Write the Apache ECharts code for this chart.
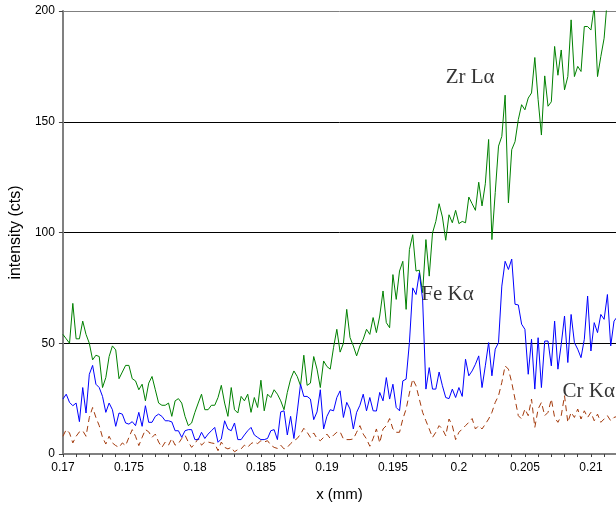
<!DOCTYPE html>
<html><head><meta charset="utf-8">
<script src="https://cdn.jsdelivr.net/npm/echarts@6/dist/echarts.min.js"></script>
<style>html,body{margin:0;padding:0;background:#fff}#c{width:616px;height:507px}</style>
</head><body><div id="c"></div>
<script>
// x positions (mm)
const xValues = [
0.17,0.17025,0.1705,0.17075, 0.171,0.17125,0.1715,0.17175, 0.172,0.17225,0.1725,0.17275,
0.173,0.17325,0.1735,0.17375, 0.174,0.17425,0.1745,0.17475, 0.175,0.17525,0.1755,0.17575,
0.176,0.17625,0.1765,0.17675, 0.177,0.17725,0.1775,0.17775, 0.178,0.17825,0.1785,0.17875,
0.179,0.17925,0.1795,0.17975, 0.18,0.18025,0.1805,0.18075, 0.181,0.18125,0.1815,0.18175,
0.182,0.18225,0.1825,0.18275, 0.183,0.18325,0.1835,0.18375, 0.184,0.18425,0.1845,0.18475,
0.185,0.18525,0.1855,0.18575, 0.186,0.18625,0.1865,0.18675, 0.187,0.18725,0.1875,0.18775,
0.188,0.18825,0.1885,0.18875, 0.189,0.18925,0.1895,0.18975, 0.19,0.19025,0.1905,0.19075,
0.191,0.19125,0.1915,0.19175, 0.192,0.19225,0.1925,0.19275, 0.193,0.19325,0.1935,0.19375,
0.194,0.19425,0.1945,0.19475, 0.195,0.19525,0.1955,0.19575, 0.196,0.19625,0.1965,0.19675,
0.197,0.19725,0.1975,0.19775, 0.198,0.19825,0.1985,0.19875, 0.199,0.19925,0.1995,0.19975,
0.2,0.20025,0.2005,0.20075, 0.201,0.20125,0.2015,0.20175, 0.202,0.20225,0.2025,0.20275,
0.203,0.20325,0.2035,0.20375, 0.204,0.20425,0.2045,0.20475, 0.205,0.20525,0.2055,0.20575,
0.206,0.20625,0.2065,0.20675, 0.207,0.20725,0.2075,0.20775, 0.208,0.20825,0.2085,0.20875,
0.209,0.20925,0.2095,0.20975, 0.21,0.21025,0.2105,0.21075, 0.211,0.21125,0.2115,0.21175,
0.212
];
// Zr L-alpha intensity (cts)
const zrLa = [
54,52,50,68,52,52,60,54,50,42.5,44.6,44,30,34.5,44,48.8,47,34,37,40,
40,34,33,29,31.5,24,32,35,29,23,22,22,23,17,24,25,23,17,12.8,14,
18.8,23,27,20,20,22,22,25.5,31,23,17,30,20,18.5,26,24,27,18.8,25.5,21,
33.3,19.5,27,25.5,29,27,24,20,27.8,33.8,37.5,35,30.8,44.6,31,32,44,38.3,30,42,
39.5,38.3,48,56.3,46,50,65.3,52.6,48.8,44.3,48.8,51.8,56.3,54,61.6,54.8,62.3,73.6,59.3,57,
81,69.8,82.6,87,65.3,92.3,99,82.6,83,72.8,96.8,80.3,99.8,105,113,107,96.5,108,104.4,110,
104,105,104.4,116,113,110,122.7,112,122,142,96.8,118,139,143.4,162,113.4,137.4,141,151,157.7,
155.4,160.7,163,179,160,144,170.7,157,159,184,171,182.4,164.4,170.4,196,170.4,175,172.7,193,193,
191.4,202,170.4,179.4,187.7,206,210,212,210
];
// Fe K-alpha intensity (cts)
const feKa = [
24.8,27,23.3,21.8,23,14.6,30,18.5,36,40,31.5,30,26,18.8,23,20,12.5,18.5,18,14,
13.5,14.6,12.8,18.8,12.5,21.8,14.3,14.3,17,18,17,15,15,14.5,10.5,10.5,7.5,10.5,11,11,
6.5,6.5,9.8,7,9,10.5,12,5.3,6.8,15,11.3,10.5,14,6.5,6.5,8.6,10.5,12,8.6,7.5,
6.5,6.5,7,10.5,11,6.5,19,19.5,8.6,17,7,19,31.5,26,26,24.8,15.5,19,29,11.3,
17,20,19.5,25.5,28.5,16.5,23.3,20.3,11.3,18.8,22,27,19.5,25.5,19.5,19.4,27.8,24,34.5,24.8,
31.5,21,19.5,33,33.8,50.3,75,72,81.8,69.8,29.3,39,29.3,29.3,37,30.8,25.5,25,29.3,25.5,
30,26,42.8,35.3,37.5,40.5,44.3,30,39.8,50.3,35.3,47.3,50.3,75.8,87,83.3,88,67.6,67.3,58.6,
56.3,36,51.8,29.3,52.5,30,51,51,39.8,60,38.3,49.5,62.3,41.3,63,50.3,47.3,43.5,51.8,71.3,
46.5,59.3,54.8,63,60.8,72,48.8,60,62
];
// Cr K-alpha intensity (cts)
const crKa = [
8,11,9.5,5,8,10,10.5,8,16.5,21,16.5,12.8,7.5,4.5,8,5,3.8,3,5,3.8,
7.5,11,8,3.8,7.5,11,10,7.5,9,5.4,3,5.4,4,7,4,4.7,7,8.5,5.4,3,
4.7,7,4,5.4,5.4,5,4.7,1.5,5.4,3,2.3,3,1,2,2.3,4,3,4.7,5.4,4.7,
6,5.4,6,4,3,2.5,4,2.3,3,4.7,6,7,9,11.6,9.8,7.5,9.5,7,6,7.5,
9,7,8.5,9.8,10,6.8,6.5,6.5,6.8,9.8,12.8,9,6.8,3.5,7,11.3,5,11.3,12.8,16,
11.3,9.8,9.8,15.8,20.3,27.5,33.8,30.8,24.8,18.8,15,11.3,7.5,9.8,12.8,11.3,8.2,15.8,12.8,6.5,
9.8,11.3,12.8,14.3,16,11.3,12.8,11.3,13.5,15.8,18.8,23.3,26.3,32.3,39.8,38.3,32.3,24.8,17.3,15.8,
20.3,17.3,24.8,12,20.3,23.3,17.3,18.8,24.8,16.5,14.3,17.3,26.3,14.3,18.8,16.5,20.3,15.8,19.5,16.5,
18.8,15,18,14.3,15.8,17.3,15,16.5,17
];
const xLabelValues = [0.17,0.175,0.18,0.185,0.19,0.195,0.2,0.205,0.21];
const yTickValues = [0,50,100,150,200];
const annotationNames = ['Zr L\u03b1','Fe K\u03b1','Cr K\u03b1'];
const annotationX = [0.1990,0.19715,0.20785];
const annotationY = [170,72,28.4];

const pair = arr => xValues.map((x,i)=>[x,arr[i]]);
const chart = echarts.init(document.getElementById('c'), null, {renderer:'canvas'});
const sans = '"Liberation Sans", Arial, sans-serif';
chart.setOption({
  animation:false,
  backgroundColor:'#fff',
  grid:{left:57,right:0,top:11,bottom:52,containLabel:false},
  xAxis:{
    type:'value', min:0.17, max:0.2119, interval:0.001,
    name:'x (mm)', nameLocation:'middle', nameGap:33,
    nameTextStyle:{fontFamily:sans,fontSize:15,color:'#000'},
    axisLine:{show:true,onZero:false,lineStyle:{color:'#808080',width:2}},
    axisTick:{show:true,length:3,lineStyle:{color:'#404040',width:1}},
    axisLabel:{margin:8,fontFamily:sans,fontSize:12,color:'#000',showMaxLabel:false,
      formatter:v=>{const r=Math.round(v*1000)/1000;return xLabelValues.some(t=>Math.abs(t-v)<1e-7)?String(r):'';}},
    splitLine:{show:false}
  },
  yAxis:{
    type:'value', min:yTickValues[0], max:yTickValues[yTickValues.length-1], interval:50,
    name:'intensity (cts)', nameLocation:'middle', nameGap:33,
    nameTextStyle:{fontFamily:sans,fontSize:16,color:'#000'},
    axisLine:{show:true,lineStyle:{color:'#808080',width:2}},
    axisTick:{show:true,length:4,lineStyle:{color:'#404040',width:1}},
    axisLabel:{margin:8,fontFamily:sans,fontSize:12,color:'#000'},
    splitLine:{show:true,lineStyle:{color:['#000','#000','#000','#000','#808080'],width:1}}
  },
  series:[
    {type:'line',name:'Zr',data:pair(zrLa),showSymbol:false,symbol:'none',clip:true,
      lineStyle:{color:'#008000',width:1},z:3},
    {type:'line',name:'Fe',data:pair(feKa),showSymbol:false,symbol:'none',clip:true,
      lineStyle:{color:'#0000ff',width:1},z:4},
    {type:'line',name:'Cr',data:pair(crKa),showSymbol:false,symbol:'none',clip:true,
      lineStyle:{color:'#a33a0c',width:1,type:[6,4]},z:2},
    {type:'scatter',symbolSize:0,silent:true,z:5,
      data:annotationNames.map((n,i)=>({name:n,value:[annotationX[i],annotationY[i]]})),
      label:{show:true,position:'right',distance:0,formatter:p=>p.name,
        fontFamily:'"Liberation Serif","Times New Roman",serif',fontSize:21,color:'#000'}}
  ]
});
</script></body></html>
